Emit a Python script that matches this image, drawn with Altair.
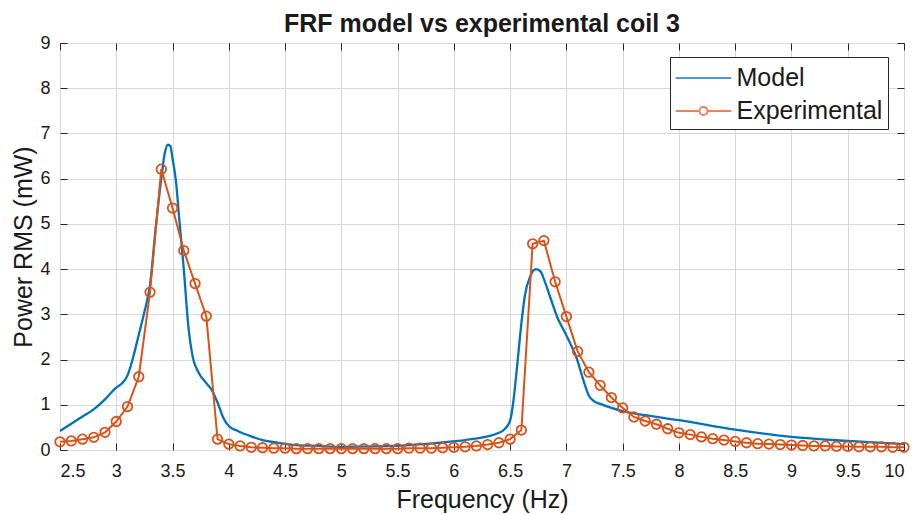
import altair as alt
import pandas as pd

# Experimental samples (0.1 Hz steps from 2.5 to 10 Hz)
exp_freq = [round(2.5 + 0.1 * i, 1) for i in range(76)]
exp_power = [
    0.18, 0.20, 0.24, 0.28, 0.39, 0.63, 0.96, 1.62, 3.49, 6.21,
    5.35, 4.41, 3.68, 2.96, 0.24, 0.13, 0.09, 0.06, 0.05, 0.04,
    0.04, 0.03, 0.03, 0.03, 0.03, 0.03, 0.03, 0.03, 0.03, 0.03,
    0.03, 0.04, 0.04, 0.04, 0.05, 0.06, 0.07, 0.09, 0.12, 0.16,
    0.24, 0.44, 4.56, 4.63, 3.72, 2.95, 2.18, 1.72, 1.43, 1.16,
    0.93, 0.73, 0.64, 0.57, 0.47, 0.38, 0.34, 0.29, 0.25, 0.22,
    0.19, 0.16, 0.14, 0.13, 0.12, 0.11, 0.10, 0.09, 0.09, 0.08,
    0.08, 0.07, 0.07, 0.07, 0.06, 0.06,
]

# Model curve
model_freq = [
    2.5, 2.6, 2.7, 2.8, 2.9, 3.0, 3.05, 3.1, 3.15, 3.2, 3.25, 3.3, 3.35,
    3.4, 3.43, 3.46, 3.48, 3.5, 3.53, 3.56, 3.6, 3.64, 3.68, 3.73, 3.8,
    3.85, 3.9, 3.95, 4.0, 4.08, 4.2, 4.3, 4.44, 4.6, 4.8, 5.0, 5.3, 5.6,
    5.9, 6.1, 6.3, 6.4, 6.45, 6.5, 6.53, 6.56, 6.6, 6.63, 6.68, 6.73,
    6.77, 6.8, 6.86, 6.92, 6.98, 7.03, 7.09, 7.15, 7.2, 7.25, 7.3, 7.4,
    7.5, 7.7, 8.0, 8.5, 9.0, 9.5, 10.0,
]
model_power = [
    0.42, 0.58, 0.74, 0.90, 1.12, 1.38, 1.47, 1.65, 2.05, 2.55, 3.05, 3.65, 4.9,
    6.0, 6.55, 6.75, 6.72, 6.45, 5.95, 5.1, 4.0, 2.75, 2.05, 1.72, 1.48,
    1.32, 1.05, 0.72, 0.53, 0.42, 0.30, 0.22, 0.16, 0.11, 0.09, 0.07, 0.08, 0.11,
    0.17, 0.22, 0.30, 0.38, 0.46, 0.65, 1.1, 1.8, 2.8, 3.4, 3.85, 4.0,
    3.95, 3.78, 3.35, 2.93, 2.63, 2.38, 2.04, 1.55, 1.2, 1.07, 1.02, 0.93,
    0.86, 0.77, 0.66, 0.45, 0.29, 0.20, 0.13,
]

series_names = ["Model", "Experimental"]
series_colors = ["#0072BD", "#D95319"]
x_ticks = [2.5 + 0.5 * i for i in range(16)]
y_ticks = list(range(10))

model_df = pd.DataFrame({"f": model_freq, "p": model_power, "series": "Model"})
exp_df = pd.DataFrame({"f": exp_freq, "p": exp_power, "series": "Experimental"})

FONT = "Liberation Sans"
TXT = "#1a1a1a"
TICK = 7

x_scale = alt.Scale(domain=[2.5, 10], nice=False, zero=False)
y_scale = alt.Scale(domain=[0, 9], nice=False)

x_bottom = alt.Axis(
    orient="bottom", values=x_ticks, format="~g", title="Frequency (Hz)",
    offset=-TICK, tickSize=TICK, domain=False, grid=True,
    labelPadding=12, titlePadding=7,
)
y_left = alt.Axis(
    orient="left", values=y_ticks, title="Power RMS (mW)",
    offset=-TICK, tickSize=TICK, domain=False, grid=True,
    labelPadding=10, titlePadding=3,
)
x_top = alt.Axis(
    orient="top", values=x_ticks, title=None, labels=False,
    offset=-TICK, tickSize=TICK, domain=False, grid=False,
)
y_right = alt.Axis(
    orient="right", values=y_ticks, title=None, labels=False,
    offset=-TICK, tickSize=TICK, domain=False, grid=False,
)

model_line = alt.Chart(model_df).mark_line(
    color=series_colors[0], strokeWidth=2.3, interpolate="monotone"
).encode(
    x=alt.X("f:Q", scale=x_scale, axis=x_bottom),
    y=alt.Y("p:Q", scale=y_scale, axis=y_left),
)

exp_line = alt.Chart(exp_df).mark_line(
    color=series_colors[1], strokeWidth=2
).encode(
    x=alt.X("f:Q", scale=x_scale, axis=x_top),
    y=alt.Y("p:Q", scale=y_scale, axis=y_right),
)

exp_pts = alt.Chart(exp_df).mark_point(
    color=series_colors[1], filled=False, size=90, strokeWidth=1.8, opacity=1
).encode(
    x=alt.X("f:Q", scale=x_scale, axis=None),
    y=alt.Y("p:Q", scale=y_scale, axis=None),
)

line_path = "M-1.85,0H1.85"
line_circle_path = (
    "M-1.85,0H-0.27M0.27,0H1.85"
    "M0.27,0A0.27,0.27 0 1,1 -0.27,0A0.27,0.27 0 1,1 0.27,0"
)

legend_layer = alt.Chart(exp_df).transform_filter("datum.f < 0").mark_point(
    filled=False, strokeWidth=2
).encode(
    x=alt.X("f:Q", scale=x_scale, axis=None),
    y=alt.Y("p:Q", scale=y_scale, axis=None),
    color=alt.Color(
        "series:N",
        scale=alt.Scale(domain=series_names, range=series_colors),
        legend=alt.Legend(title=None),
    ),
    shape=alt.Shape(
        "series:N",
        scale=alt.Scale(domain=series_names, range=[line_path, line_circle_path]),
        legend=alt.Legend(title=None),
    ),
)

chart = alt.layer(model_line, exp_line, exp_pts, legend_layer).resolve_axis(
    x="independent", y="independent"
).properties(
    width=844,
    height=407,
    autosize=alt.AutoSizeParams(type="none"),
    padding={"left": 52, "top": 35, "right": 7, "bottom": 63},
    title=alt.Title(
        "FRF model vs experimental coil 3",
        font=FONT, fontSize=25, fontWeight="bold", color=TXT,
        anchor="middle", baseline="alphabetic", offset=-23,
    ),
).configure_view(
    stroke="#262626", strokeWidth=1
).configure_axis(
    labelFont=FONT, titleFont=FONT, labelFontSize=18, titleFontSize=25,
    labelColor=TXT, titleColor=TXT, titleFontWeight="normal",
    tickColor="#262626", tickWidth=1, gridColor="#d9d9d9", gridWidth=1,
    gridOpacity=1,
).configure_legend(
    orient="none", legendX=610, legendY=14,
    padding=5, rowPadding=4,
    strokeColor="#262626", fillColor="white",
    labelFont=FONT, labelFontSize=25, labelColor=TXT, labelOffset=17,
    symbolSize=900, symbolStrokeWidth=2, symbolOffset=12.5,
    symbolFillColor="transparent",
)

chart.save("out.html", embed_options={"renderer": "svg", "actions": False})
